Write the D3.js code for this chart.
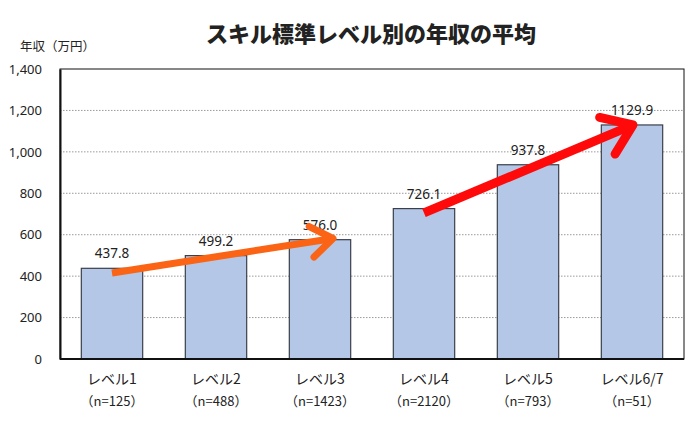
<!DOCTYPE html>
<html><head><meta charset="utf-8">
<script src="https://cdn.jsdelivr.net/npm/d3@7/dist/d3.min.js"></script>
<style>
body{margin:0;background:#fff;}
text{font-family:"Noto Sans CJK JP","Noto Sans",sans-serif;fill:#222;}
</style></head>
<body><svg id="c" width="699" height="421"></svg>
<script>
const categories = ["レベル1","レベル2","レベル3","レベル4","レベル5","レベル6/7"];
const sampleSizes = ["（n=125）","（n=488）","（n=1423）","（n=2120）","（n=793）","（n=51）"];
const values = [437.8, 499.2, 576.0, 726.1, 937.8, 1129.9];
const yTicks = [0,200,400,600,800,1000,1200,1400];
const title = "スキル標準レベル別の年収の平均";
const yTitle = "年収（万円）";
// trend arrows in data units: [from category, from value, to category, to value]
const arrows = [
  {from:"レベル1", v0:415, to:"レベル3", v1:582, dx1:13, color:"#fa6414", w:7},
  {from:"レベル4", v0:705, to:"レベル6/7", v1:1130, dx1:1, color:"#ff0a0a", w:9}
];

const svg = d3.select("#c");
const m = {l:60, r:684, t:69, b:359};
const x = d3.scaleBand().domain(categories).range([m.l, m.r]).paddingInner(0.41).paddingOuter(0.205);
const y = d3.scaleLinear().domain([0,1400]).range([m.b, m.t]);

// gridlines
svg.append("g").selectAll("line").data(yTicks.filter(d=>d>0 && d<1400)).join("line")
  .attr("x1", m.l).attr("x2", m.r).attr("y1", d=>y(d)).attr("y2", d=>y(d))
  .attr("stroke","#9a9a9a").attr("stroke-dasharray","1.5,1.5").attr("stroke-width",1);

// frame
svg.append("rect").attr("x",m.l).attr("y",m.t).attr("width",m.r-m.l).attr("height",m.b-m.t)
  .attr("fill","none").attr("stroke","#111").attr("stroke-width",1);

// y axis
const ya = svg.append("g").attr("transform",`translate(${m.l},0)`)
  .call(d3.axisLeft(y).tickValues(yTicks).tickFormat(d3.format(",")).tickSize(0).tickPadding(18));
ya.select(".domain").attr("stroke","#111").attr("stroke-width",2);
ya.selectAll("text").style("font-size","13px").style("font-family","'Noto Sans','Noto Sans CJK JP',sans-serif").attr("fill","#222");

// bars
svg.append("g").selectAll("rect").data(values).join("rect")
  .attr("x",(d,i)=>x(categories[i])).attr("width",x.bandwidth())
  .attr("y",d=>y(d)).attr("height",d=>y(0)-y(d))
  .attr("fill","#b4c7e7").attr("stroke","#3a3f4a").attr("stroke-width",1.2);

// bottom axis line
svg.append("line").attr("x1",m.l).attr("x2",m.r).attr("y1",m.b).attr("y2",m.b).attr("stroke","#111").attr("stroke-width",2);

// value labels
svg.append("g").selectAll("text").data(values).join("text")
  .attr("x",(d,i)=>x(categories[i])+x.bandwidth()/2).attr("y",d=>y(d)-10)
  .attr("text-anchor","middle").style("font-size","13.5px")
  .style("font-family","'Noto Sans','Noto Sans CJK JP',sans-serif")
  .text(d=>d.toFixed(1));

// category labels
const xl = svg.append("g");
xl.selectAll("text.cat").data(categories).join("text").attr("class","cat")
  .attr("x",d=>x(d)+x.bandwidth()/2).attr("y",384).attr("text-anchor","middle")
  .style("font-size","14px").text(d=>d);
xl.selectAll("text.n").data(sampleSizes).join("text").attr("class","n")
  .attr("x",(d,i)=>x(categories[i])+x.bandwidth()/2).attr("y",406).attr("text-anchor","middle")
  .style("font-size","13px").text(d=>d);

// titles
svg.append("text").attr("x",371).attr("y",42).attr("text-anchor","middle")
  .style("font-size","22px").style("font-weight","900").attr("fill","#111").text(title);
svg.append("text").attr("x",20).attr("y",51).style("font-size","12.5px").text(yTitle);

// arrows
arrows.forEach(a=>{
  const x0 = x(a.from)+x.bandwidth()/2, y0 = y(a.v0);
  const x1 = x(a.to)+x.bandwidth()/2 + a.dx1, y1 = y(a.v1);
  const ang = Math.atan2(y1-y0, x1-x0);
  const hl = a.w*3.8, spread = 0.62;
  const g = svg.append("g").attr("stroke",a.color).attr("stroke-width",a.w)
    .attr("stroke-linecap","round").attr("stroke-linejoin","round").attr("fill","none");
  g.append("line").attr("x1",x0).attr("y1",y0).attr("x2",x1).attr("y2",y1).attr("stroke-linecap","butt");
  g.append("path").attr("d", d3.line()([
    [x1 - hl*Math.cos(ang-spread), y1 - hl*Math.sin(ang-spread)],
    [x1, y1],
    [x1 - hl*Math.cos(ang+spread), y1 - hl*Math.sin(ang+spread)]
  ]));
});
</script></body></html>
